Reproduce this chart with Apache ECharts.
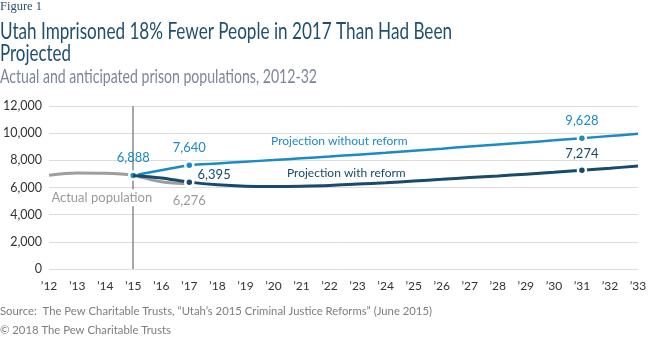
<!DOCTYPE html>
<html>
<head>
<meta charset="utf-8">
<script src="https://cdn.jsdelivr.net/npm/echarts@6/dist/echarts.min.js"></script>
<style>
  html, body { margin: 0; padding: 0; background: #ffffff; }
  #chart { width: 650px; height: 338px; }
</style>
</head>
<body>
<div id="chart"></div>
<script>
// Years on the horizontal axis, 2012 through 2033
const years = [2012, 2013, 2014, 2015, 2016, 2017, 2018, 2019, 2020, 2021, 2022,
               2023, 2024, 2025, 2026, 2027, 2028, 2029, 2030, 2031, 2032, 2033];

// Actual prison population
const actualPopulation = [6900, 7060, 7040, 6888, 6420, 6276, null, null, null, null, null,
                          null, null, null, null, null, null, null, null, null, null, null];

// Projection without reform
const projectionWithoutReform = [null, null, null, 6888, 7270, 7640, 7770, 7900, 8020, 8150, 8280,
                                 8420, 8560, 8710, 8860, 9020, 9170, 9320, 9470, 9628, 9790, 9950];

// Projection with reform
const projectionWithReform = [null, null, null, 6888, 6700, 6395, 6200, 6100, 6080, 6100, 6150,
                              6250, 6350, 6480, 6600, 6730, 6850, 6980, 7120, 7274, 7420, 7580];

// Years that carry a value label on each line
const labelledActual = [2017];
const labelledWithout = [2015, 2017, 2031];
const labelledWith = [2017, 2031];

// Vertical axis ticks
const yMin = 0, yMax = 12000, yStep = 2000;

const BLUE = '#1b8ac6';
const NAVY = '#174a6c';
const GREY = '#9e9e9e';
const AXIS_FONT = 'Lato';

// Narrow a text line horizontally so it fills a given width
const measureCtx = document.createElement('canvas').getContext('2d');
function narrowText(text, font, width, top, fill) {
  measureCtx.font = font;
  const w = measureCtx.measureText(text).width;
  return {
    type: 'text', x: 0, y: top, scaleX: width / w, originX: 0,
    style: { text: text, font: font, fill: fill, verticalAlign: 'top' }
  };
}

function buildSeriesData(values, labelled, labelFor) {
  return years.map((yr, i) => {
    const v = values[i];
    if (v == null) return [yr, null];
    if (labelled.indexOf(yr) >= 0) {
      return {
        value: [yr, v],
        symbol: 'circle',
        symbolSize: 8,
        label: Object.assign({ show: true, formatter: (p) => p.value[1].toLocaleString('en-US') }, labelFor(yr))
      };
    }
    return { value: [yr, v], symbol: 'none' };
  });
}

const chart = echarts.init(document.getElementById('chart'), null, { renderer: 'canvas' });

const option = {
  animation: false,
  backgroundColor: '#ffffff',
  graphic: [
    narrowText('Figure 1', '13px "Liberation Serif"', 42, 0, '#2a4f68'),
    narrowText('Utah Imprisoned 18% Fewer People in 2017 Than Had Been', '22.5px Lato', 452, 20, '#1f4f6e'),
    narrowText('Projected', '22.5px Lato', 71, 42, '#1f4f6e'),
    narrowText('Actual and anticipated prison populations, 2012-32', '19px Lato', 317, 67, '#7b869b'),
    narrowText('Source:  The Pew Charitable Trusts, \u201cUtah\u2019s 2015 Criminal Justice Reforms\u201d (June 2015)', '12px Lato', 432, 305, '#7d7d7d'),
    narrowText('\u00a9 2018 The Pew Charitable Trusts', '12px Lato', 171, 324, '#7d7d7d')
  ],
  grid: { left: 47, right: 12, top: 106, bottom: 69, containLabel: false },
  xAxis: {
    type: 'value',
    min: 2012,
    max: 2033,
    interval: 1,
    axisLine: { show: false },
    axisTick: { show: false },
    splitLine: { show: false },
    axisLabel: {
      color: '#333',
      fontFamily: AXIS_FONT,
      fontSize: 12,
      margin: 11,
      formatter: (v) => '\u2019' + String(v).slice(2)
    }
  },
  yAxis: {
    type: 'value',
    min: yMin,
    max: yMax,
    interval: yStep,
    axisLine: { show: false },
    axisTick: { show: false },
    splitLine: { lineStyle: { color: '#dcdcdc', width: 1 } },
    axisLabel: {
      color: '#333',
      fontFamily: AXIS_FONT,
      fontSize: 12.5,
      margin: 7,
      formatter: (v) => v.toLocaleString('en-US')
    }
  },
  series: [
    {
      name: 'Actual population',
      type: 'line',
      smooth: 0.35,
      z: 3,
      lineStyle: { color: GREY, width: 3 },
      itemStyle: { color: '#9a9a9a', borderColor: '#ffffff', borderWidth: 2 },
      data: buildSeriesData(actualPopulation, labelledActual, () => ({
        position: 'bottom', distance: 6, color: '#9a9a9a', fontSize: 13, fontFamily: AXIS_FONT
      })),
      markLine: {
        silent: true,
        symbol: 'none',
        z: 1,
        label: { show: false },
        lineStyle: { color: '#8a8a8a', width: 1.5, type: 'solid' },
        data: [{ xAxis: 2015 }]
      },
      markPoint: {
        silent: true,
        symbol: 'rect',
        symbolSize: 1,
        itemStyle: { color: 'rgba(0,0,0,0)' },
        z: 10,
        label: {
          show: true,
          formatter: 'Actual population',
          color: '#9a9a9a',
          fontFamily: AXIS_FONT,
          fontSize: 13,
          backgroundColor: '#ffffff',
          padding: [2, 3]
        },
        data: [{ coord: [2013.88, 5240] }]
      }
    },
    {
      name: 'Projection without reform',
      type: 'line',
      smooth: 0.35,
      z: 4,
      lineStyle: { color: BLUE, width: 2.5 },
      itemStyle: { color: BLUE, borderColor: '#ffffff', borderWidth: 2.5 },
      data: buildSeriesData(projectionWithoutReform, labelledWithout, () => ({
        position: 'top', distance: 6, color: BLUE, fontSize: 13, fontFamily: AXIS_FONT
      })),
      markPoint: {
        silent: true,
        symbol: 'rect',
        symbolSize: 1,
        itemStyle: { color: 'rgba(0,0,0,0)' },
        label: { show: true, formatter: 'Projection without reform', color: BLUE, fontFamily: AXIS_FONT, fontSize: 12 },
        data: [{ coord: [2022.35, 9430] }]
      }
    },
    {
      name: 'Projection with reform',
      type: 'line',
      smooth: 0.35,
      z: 5,
      lineStyle: { color: NAVY, width: 3 },
      itemStyle: { color: NAVY, borderColor: '#ffffff', borderWidth: 2.5 },
      data: buildSeriesData(projectionWithReform, labelledWith, (yr) => (yr === 2017
        ? { position: 'right', distance: 3, offset: [0, -7], color: NAVY, fontSize: 13, fontFamily: AXIS_FONT }
        : { position: 'top', distance: 5, color: NAVY, fontSize: 13, fontFamily: AXIS_FONT, backgroundColor: '#ffffff', padding: [0, 4] })),
      markPoint: {
        silent: true,
        symbol: 'rect',
        symbolSize: 1,
        itemStyle: { color: 'rgba(0,0,0,0)' },
        label: { show: true, formatter: 'Projection with reform', color: NAVY, fontFamily: AXIS_FONT, fontSize: 12 },
        data: [{ coord: [2022.6, 7080] }]
      }
    }
  ]
};

chart.setOption(option);
</script>
</body>
</html>
